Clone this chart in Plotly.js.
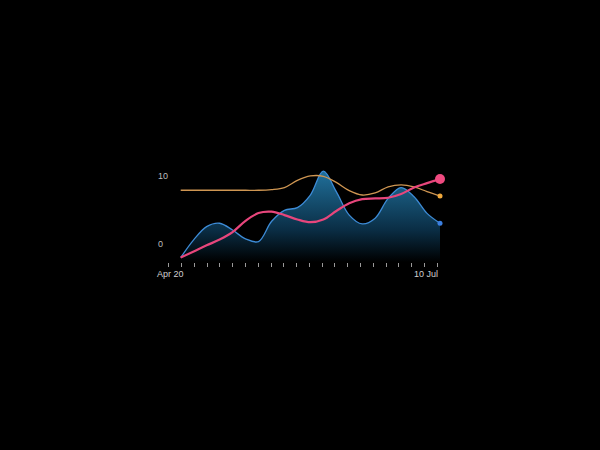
<!DOCTYPE html>
<html>
<head>
<meta charset="utf-8">
<script src="https://cdn.plot.ly/plotly-3.0.1.min.js"></script>
<style>
html,body{margin:0;padding:0;background:#000;}
#chart{width:600px;height:450px;}
</style>
</head>
<body>
<div id="chart"></div>
<script>
// x index of each data point (Apr 20 ... 10 Jul)
const steps = [0,1,2,3,4,5,6,7,8,9,10,11,12,13,14,15,16,17,18,19,20];
const blueSeries = [-2.0,0.6,2.55,3.05,2.05,0.75,0.35,3.3,4.95,5.35,7.2,10.7,7.7,4.25,2.95,3.8,6.7,8.3,6.95,4.5,3.05];
const pinkSeries = [-2.0,-1.1,-0.2,0.65,1.75,3.4,4.55,4.75,4.25,3.6,3.2,3.6,4.85,6.0,6.6,6.7,6.8,7.35,8.3,8.95,9.55];
const orangeSeries = [7.9,7.9,7.9,7.9,7.9,7.9,7.9,8.0,8.3,9.35,10.0,9.95,9.05,7.85,7.2,7.5,8.4,8.7,8.4,7.7,7.05];
const yTickVals = [0, 10];
const yTickText = ['0', '10'];
const xLabelFirst = 'Apr 20';
const xLabelLast = '10 Jul';

const yMin = -2.65, yMax = 10.88;
const baseline = steps.map(() => yMin);
const last = steps.length - 1;

const traces = [
  {x: steps, y: baseline, mode: 'lines', line: {width: 0, color: 'rgba(0,0,0,0)'}, hoverinfo: 'skip', showlegend: false},
  {x: steps, y: blueSeries, mode: 'lines', fill: 'tonexty',
   fillgradient: {type: 'vertical', start: yMin, stop: 10.7,
     colorscale: [[0, 'rgba(0,0,0,1)'], [0.35, 'rgb(10,45,68)'], [1, 'rgb(32,112,155)']]},
   line: {shape: 'spline', smoothing: 1, color: '#3d8bd6', width: 1.3}, showlegend: false},
  {x: steps, y: orangeSeries, mode: 'lines', line: {shape: 'spline', smoothing: 1, color: '#cf9652', width: 1.3}, showlegend: false},
  {x: steps, y: pinkSeries, mode: 'lines', line: {shape: 'spline', smoothing: 1, color: '#e8467c', width: 2.2}, showlegend: false},
  {x: [steps[last]], y: [blueSeries[last]], mode: 'markers', marker: {size: 5, color: '#3b7fe0'}, cliponaxis: false, showlegend: false},
  {x: [steps[last]], y: [orangeSeries[last]], mode: 'markers', marker: {size: 5, color: '#f0a83c'}, cliponaxis: false, showlegend: false},
  {x: [steps[last]], y: [pinkSeries[last]], mode: 'markers', marker: {size: 10, color: '#ef4a80'}, cliponaxis: false, showlegend: false}
];

const layout = {
  width: 600, height: 450,
  paper_bgcolor: '#000', plot_bgcolor: '#000',
  margin: {l: 155, r: 160, t: 170, b: 188, pad: 0},
  showlegend: false,
  xaxis: {
    range: [-1.982, 20.0], showgrid: false, zeroline: false, showline: false,
    tickmode: 'linear', tick0: -1.905, dtick: 0.9857,
    ticks: 'outside', ticklen: 4, tickwidth: 1, tickcolor: '#9a9a9a',
    showticklabels: false
  },
  yaxis: {
    range: [yMin, yMax], showgrid: false, zeroline: false, showline: false,
    tickmode: 'array', tickvals: yTickVals, ticktext: yTickText,
    ticks: '', ticklabelposition: 'inside',
    tickfont: {family: 'Liberation Sans, Arial, sans-serif', size: 9, color: '#bdbdbd'}
  },
  annotations: [
    {xref: 'paper', yref: 'paper', x: 0, y: 0, yshift: -12, xanchor: 'left', yanchor: 'middle', showarrow: false,
     text: xLabelFirst, font: {family: 'Liberation Sans, Arial, sans-serif', size: 9, color: '#d0d0d0'}},
    {xref: 'paper', yref: 'paper', x: 1, y: 0, yshift: -12, xanchor: 'right', yanchor: 'middle', showarrow: false,
     text: xLabelLast, font: {family: 'Liberation Sans, Arial, sans-serif', size: 9, color: '#d0d0d0'}}
  ]
};

Plotly.newPlot('chart', traces, layout, {displayModeBar: false, staticPlot: true});
</script>
</body>
</html>
